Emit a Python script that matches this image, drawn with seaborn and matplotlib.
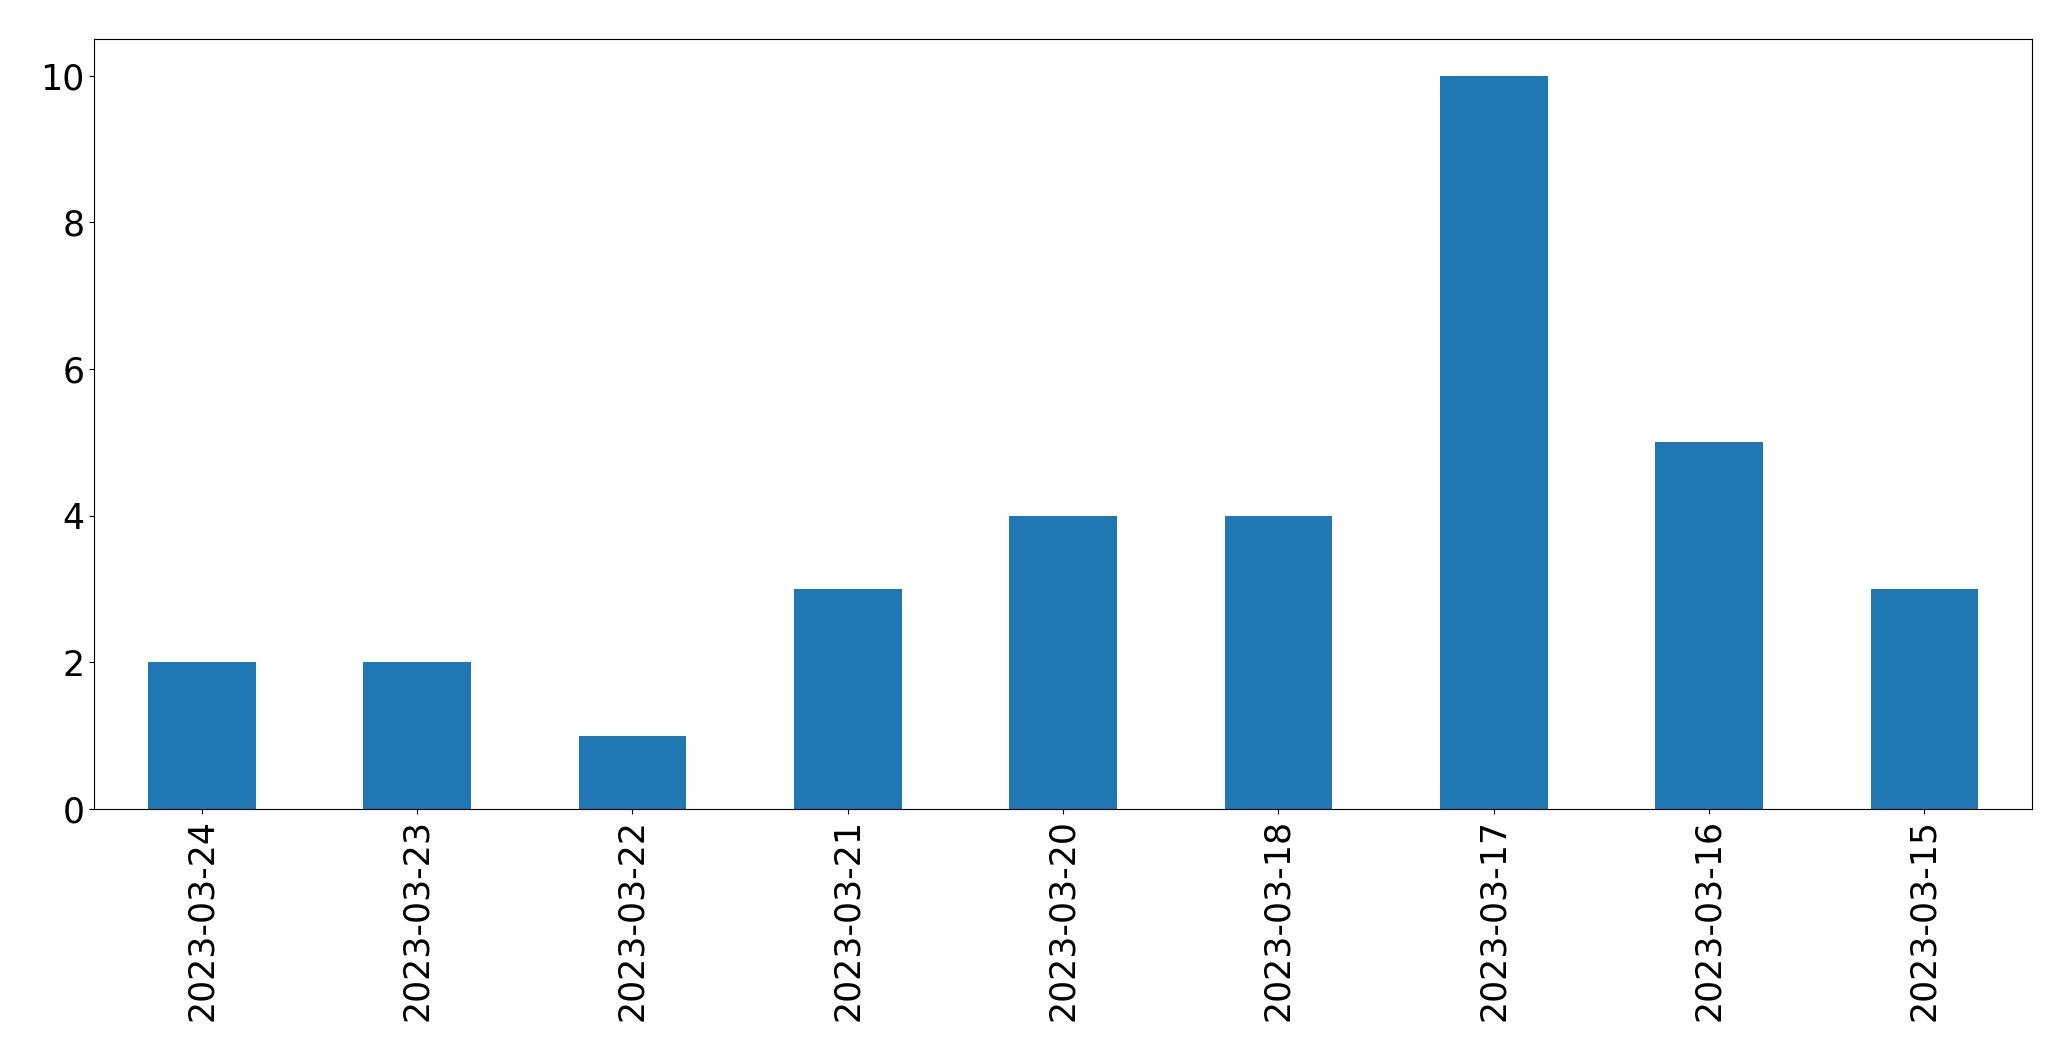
import matplotlib
matplotlib.use("Agg")
import matplotlib.pyplot as plt
import pandas as pd
import seaborn as sns

DATES = [
    "2023-03-24", "2023-03-23", "2023-03-22", "2023-03-21", "2023-03-20",
    "2023-03-18", "2023-03-17", "2023-03-16", "2023-03-15",
]
COUNTS = [2, 2, 1, 3, 4, 4, 10, 5, 3]

df = pd.DataFrame({"date": DATES, "count": COUNTS})

fig, ax = plt.subplots(figsize=(20.71, 10.61), dpi=100)
sns.barplot(data=df, x="date", y="count", order=DATES, color="#1f77b4",
            saturation=1, width=0.5, ax=ax)
ax.set_xlim(-0.5, len(DATES) - 0.5)
ax.set_ylim(0, 10.5)
ax.set_xlabel("")
ax.set_ylabel("")
ax.tick_params(axis="both", labelsize=25)
ax.tick_params(axis="x", labelrotation=90)
fig.subplots_adjust(left=0.0454, right=0.9812, top=0.9632, bottom=0.2375)
fig.savefig("out.png", dpi=100)
